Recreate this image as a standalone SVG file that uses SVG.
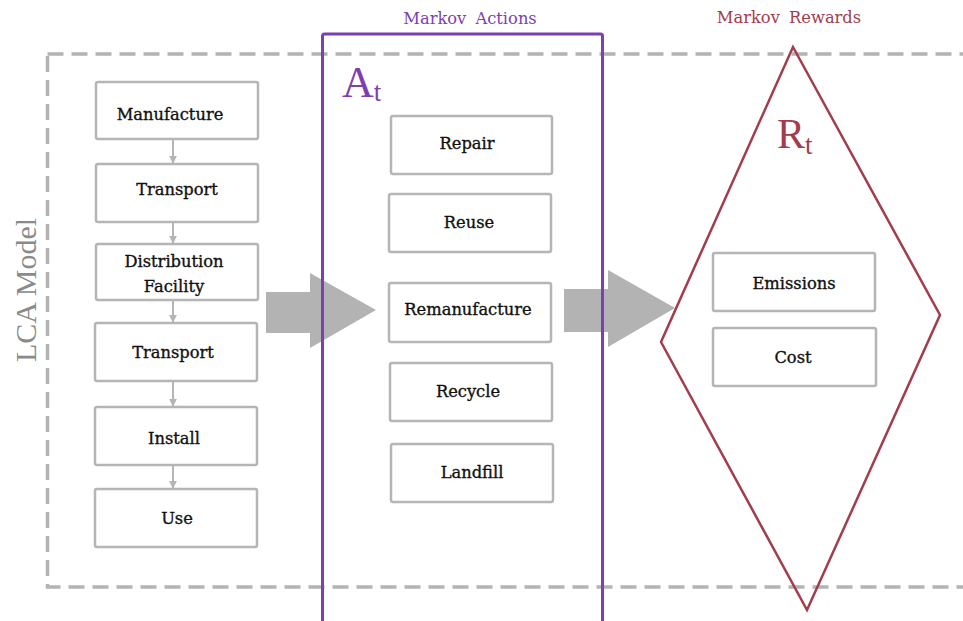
<svg xmlns="http://www.w3.org/2000/svg" width="963" height="621" viewBox="0 0 963 621">
<style>
.box{fill:#fff;stroke:#b5b5b5;stroke-width:2.5}
.lbl{font-family:"DejaVu Serif","Liberation Serif",serif;font-size:16.3px;fill:#111;stroke:#111;stroke-width:0.35;text-anchor:middle}
.conn{stroke:#b5b5b5;stroke-width:2;fill:none}
.big{fill:#b3b3b3}
</style>
<defs>
<marker id="ah" viewBox="0 0 10 10" refX="9" refY="5" markerWidth="8" markerHeight="8" markerUnits="userSpaceOnUse" orient="auto">
<path d="M0,0 L10,5 L0,10 z" fill="#b5b5b5"/>
</marker>
</defs>
<rect width="963" height="621" fill="#fff"/>
<g id="lca-boundary">
<rect x="47.5" y="54" width="940" height="533" fill="none" stroke="#b3b3b3" stroke-width="3.5" stroke-dasharray="16 8"/>
<text transform="translate(36,290) rotate(-90)" font-family="Liberation Serif,serif" font-size="30" fill="#8a8a8a" text-anchor="middle">LCA Model</text>
</g>
<g id="big-arrows">
<path class="big" d="M266,292 H310 V273 L376,310 L310,348 V333 H266 z"/>
<path class="big" d="M564,289 H608 V270 L675,308 L608,347 V332 H564 z"/>
</g>
<g id="markov-actions">
<rect x="322.5" y="34" width="280" height="600" rx="2" fill="none" stroke="#7d3fb2" stroke-width="3"/>
<text x="470" y="24" font-family="DejaVu Serif,Liberation Serif,serif" font-size="16.3" fill="#7d3fb2" text-anchor="middle" word-spacing="4">Markov Actions</text>
<text x="342" y="97" font-family="Liberation Serif,serif" font-size="44" fill="#7d3fb2">A<tspan font-size="27" dy="4">t</tspan></text>
</g>
<g id="markov-rewards">
<path d="M793,47 L940,315 L807,610 L661,342 z" fill="none" stroke="#a33c4c" stroke-width="2.5" stroke-linejoin="miter"/>
<text x="789" y="23" font-family="DejaVu Serif,Liberation Serif,serif" font-size="16.3" fill="#a33c4c" text-anchor="middle" word-spacing="4">Markov Rewards</text>
<text x="777" y="148" font-family="Liberation Serif,serif" font-size="42" fill="#a33c4c">R<tspan font-size="27" dy="6">t</tspan></text>
</g>
<g id="connectors">
<line class="conn" x1="173" y1="140" x2="173" y2="163" marker-end="url(#ah)"/>
<line class="conn" x1="173" y1="222" x2="173" y2="243" marker-end="url(#ah)"/>
<line class="conn" x1="173" y1="301" x2="173" y2="322" marker-end="url(#ah)"/>
<line class="conn" x1="173" y1="381" x2="173" y2="406" marker-end="url(#ah)"/>
<line class="conn" x1="173" y1="466" x2="173" y2="488" marker-end="url(#ah)"/>
</g>
<g id="manufacture"><rect class="box" x="96" y="82" width="162" height="57" rx="2"/><text class="lbl" x="170" y="120">Manufacture</text></g>
<g id="transport1"><rect class="box" x="96" y="164" width="162" height="58" rx="2"/><text class="lbl" x="177" y="195">Transport</text></g>
<g id="distribution"><rect class="box" x="96" y="244" width="162" height="56" rx="2"/><text class="lbl" x="174" y="267">Distribution</text><text class="lbl" x="174" y="292">Facility</text></g>
<g id="transport2"><rect class="box" x="95" y="323" width="162" height="58" rx="2"/><text class="lbl" x="173" y="358">Transport</text></g>
<g id="install"><rect class="box" x="95" y="407" width="162" height="58" rx="2"/><text class="lbl" x="174" y="444">Install</text></g>
<g id="use"><rect class="box" x="95" y="489" width="162" height="58" rx="2"/><text class="lbl" x="177" y="524">Use</text></g>
<g id="repair"><rect class="box" x="391" y="116" width="161" height="58" rx="2"/><text class="lbl" x="467" y="149">Repair</text></g>
<g id="reuse"><rect class="box" x="389" y="194" width="162" height="58" rx="2"/><text class="lbl" x="469" y="228">Reuse</text></g>
<g id="remanufacture"><rect class="box" x="389" y="283" width="162" height="59" rx="2"/><text class="lbl" x="468" y="315">Remanufacture</text></g>
<g id="recycle"><rect class="box" x="390" y="363" width="162" height="58" rx="2"/><text class="lbl" x="468" y="397">Recycle</text></g>
<g id="landfill"><rect class="box" x="391" y="444" width="162" height="58" rx="2"/><text class="lbl" x="472" y="478">Landfill</text></g>
<g id="emissions"><rect class="box" x="713" y="253" width="162" height="58" rx="2"/><text class="lbl" x="794" y="289">Emissions</text></g>
<g id="cost"><rect class="box" x="713" y="328" width="163" height="58" rx="2"/><text class="lbl" x="793" y="363">Cost</text></g>
</svg>
